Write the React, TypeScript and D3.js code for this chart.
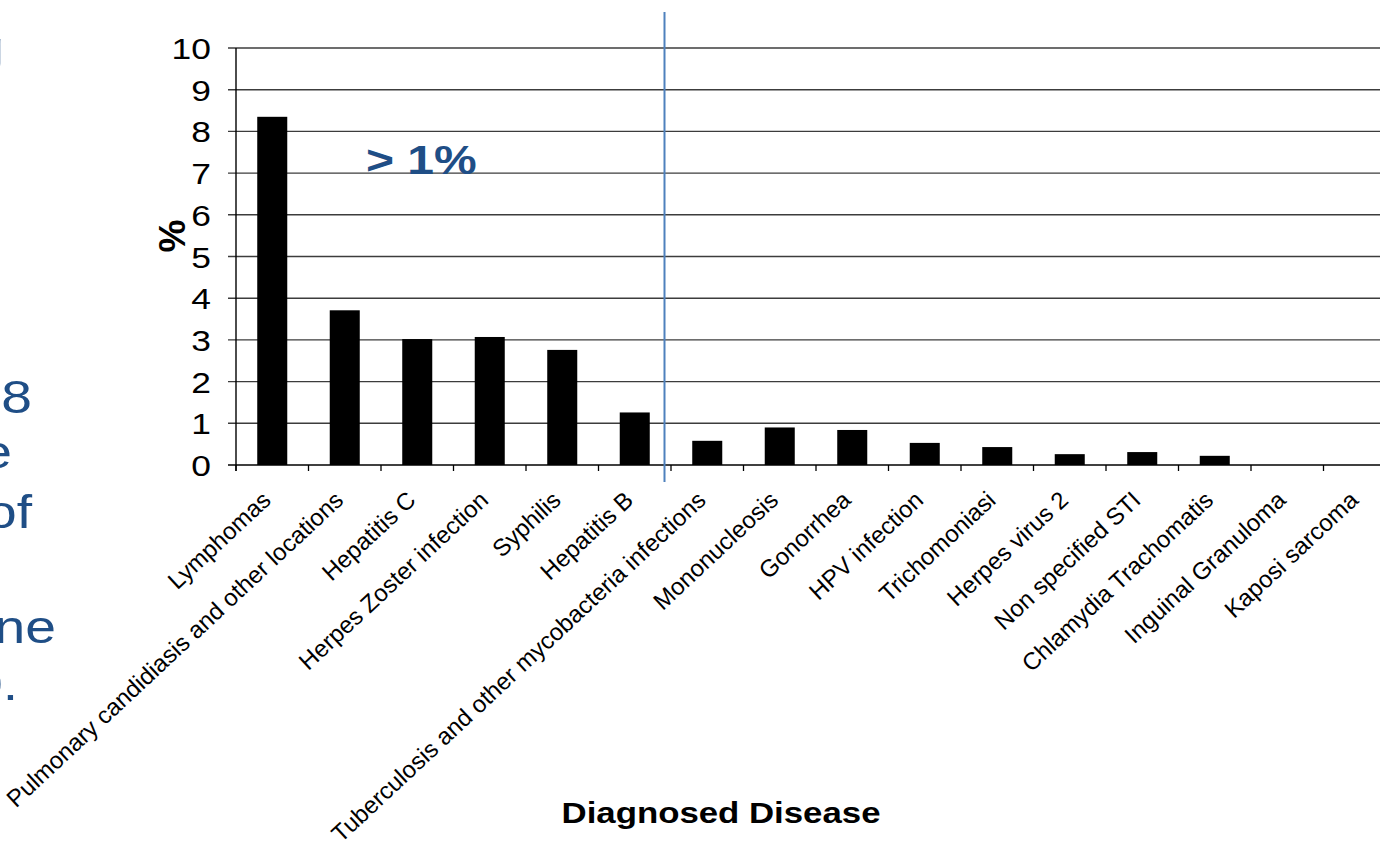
import React from "react";
import * as d3 from "d3";

// Share of patients with each diagnosed disease (%)
const categories = [
  "Lymphomas",
  "Pulmonary candidiasis and other locations",
  "Hepatitis C",
  "Herpes Zoster infection",
  "Syphilis",
  "Hepatitis B",
  "Tuberculosis and other mycobacteria infections",
  "Mononucleosis",
  "Gonorrhea",
  "HPV infection",
  "Trichomoniasi",
  "Herpes virus  2",
  "Non specified STI",
  "Chlamydia Trachomatis",
  "Inguinal Granuloma",
  "Kaposi sarcoma",
];
const percentages = [8.35, 3.71, 3.02, 3.07, 2.76, 1.26, 0.58, 0.9, 0.84, 0.53, 0.43, 0.26, 0.31, 0.22, 0, 0];
const yTicks = [0, 1, 2, 3, 4, 5, 6, 7, 8, 9, 10];

// Slide text that runs in from the left edge of the slide
const sideLines = [
  { text: "g", xEnd: 4, y: 64 },
  { text: "8", xEnd: 32, y: 413 },
  { text: "e", xEnd: 12, y: 468 },
  { text: "of", xEnd: 32, y: 528 },
  { text: "ne", xEnd: 56, y: 643 },
  { text: "0.", xEnd: 18, y: 700 },
];

const W = 1380;
const H = 852;
const SX = 1.2; // horizontal stretch of the slide artwork
const FONT = "'Liberation Sans', Arial, Helvetica, sans-serif";
const BLUE_TEXT = "#1F4E86";

export default function App() {
  const x0 = 236;
  const x1 = 1396;
  const yTop = 48;
  const yBase = 465;

  const x = d3
    .scaleBand<string>()
    .domain(categories)
    .range([x0, x1])
    .paddingInner(0.586)
    .paddingOuter(0.293);
  const step = x.step();
  const y = d3.scaleLinear().domain([0, 10]).range([yBase, yTop]);

  // split between the > 1% group and the rest, just left of the 7th slot
  const dividerX = x0 + step * 6 - 6.5;

  return (
    <svg
      width={W}
      height={H}
      style={{ position: "absolute", left: 0, top: 0, background: "#fff" }}
      fontFamily={FONT}
    >
      <rect width={W} height={H} fill="#fff" />

      {/* side text */}
      {sideLines.map((l, i) => (
        <text
          key={i}
          transform={`translate(${l.xEnd},${l.y}) scale(${SX},1)`}
          textAnchor="end"
          fontSize={46}
          fill={BLUE_TEXT}
        >
          {l.text}
        </text>
      ))}

      {/* horizontal gridlines */}
      {yTicks.map((t) => (
        <line
          key={t}
          x1={228}
          x2={W}
          y1={y(t)}
          y2={y(t)}
          stroke={t === 0 ? "#000" : "#3c3c3c"}
          strokeWidth={1.4}
        />
      ))}

      {/* y axis */}
      <line x1={x0} x2={x0} y1={yTop} y2={yBase + 6} stroke="#000" strokeWidth={1.4} />
      {yTicks.map((t) => (
        <text
          key={t}
          transform={`translate(211,${y(t) + 11}) scale(${SX},1)`}
          textAnchor="end"
          fontSize={29.5}
          fill="#000"
        >
          {t}
        </text>
      ))}

      {/* x tick marks at category boundaries */}
      {d3.range(categories.length + 1).map((i) => (
        <line
          key={i}
          x1={x0 + i * step}
          x2={x0 + i * step}
          y1={yBase}
          y2={yBase + 6}
          stroke="#000"
          strokeWidth={1.3}
        />
      ))}

      {/* bars */}
      {categories.map((c, i) => (
        <rect
          key={c}
          x={x(c)!}
          y={y(percentages[i])}
          width={x.bandwidth()}
          height={yBase - y(percentages[i])}
          fill="#000"
        />
      ))}

      {/* category labels */}
      {categories.map((c) => {
        const cx = x(c)! + x.bandwidth() / 2;
        return (
          <text
            key={c}
            transform={`translate(${cx},502) rotate(-43)`}
            textAnchor="end"
            fontSize={24}
            fill="#000"
          >
            {c}
          </text>
        );
      })}

      {/* divider */}
      <line x1={dividerX} x2={dividerX} y1={12} y2={482} stroke="#4F81BD" strokeWidth={2} />
      <text
        transform={`translate(366,174) scale(${SX},1)`}
        fontSize={40}
        fontWeight="bold"
        fill={BLUE_TEXT}
      >
        {"> 1%"}
      </text>

      {/* axis titles */}
      <text
        transform={`translate(185,236) rotate(-90)`}
        textAnchor="middle"
        fontSize={37}
        fontWeight="bold"
        fill="#000"
      >
        %
      </text>
      <text
        transform={`translate(721,823) scale(${SX},1)`}
        textAnchor="middle"
        fontSize={29}
        fontWeight="bold"
        fill="#000"
      >
        Diagnosed Disease
      </text>
    </svg>
  );
}
